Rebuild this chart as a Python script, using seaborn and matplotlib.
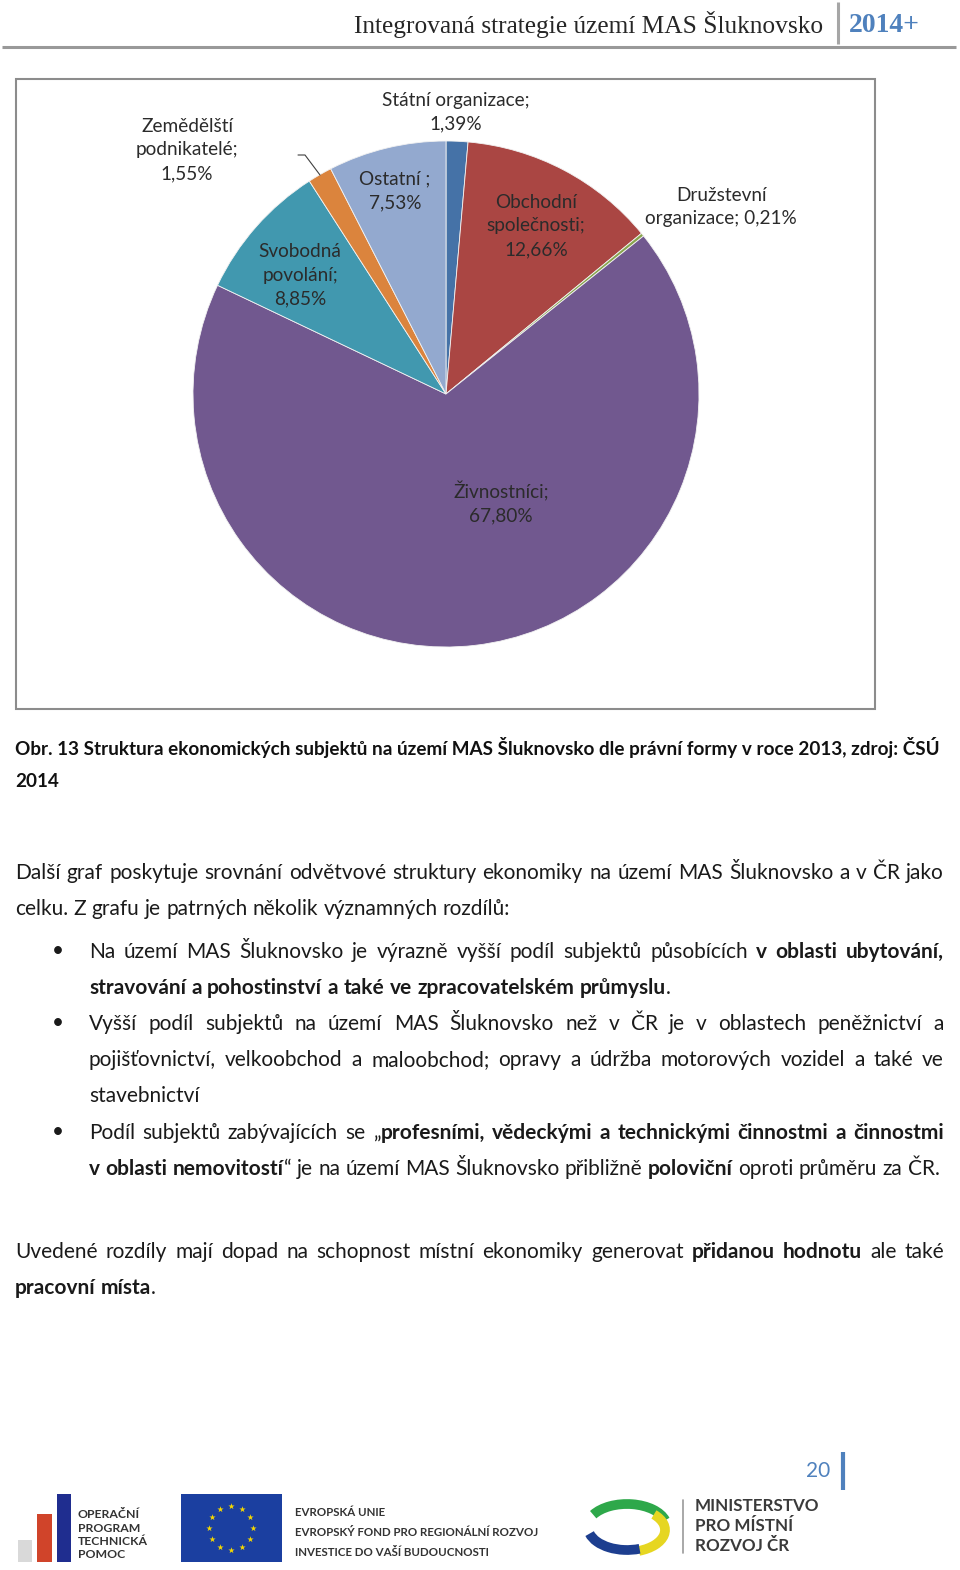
import numpy as np
import pandas as pd
import seaborn as sns
import matplotlib
matplotlib.use("Agg")
import matplotlib.pyplot as plt
from matplotlib.patches import Rectangle, Arc

# ---------------- data ----------------
categories = ["Státní organizace", "Obchodní společnosti", "Družstevní organizace",
              "Živnostníci", "Svobodná povolání", "Zemědělští podnikatelé", "Ostatní"]
shares = [1.39, 12.66, 0.21, 67.80, 8.85, 1.55, 7.53]
slice_colors = ["#4572A7", "#AA4643", "#89A54E", "#71588F", "#4198AF", "#DB843D", "#93A9CF"]
label_templates = ["Státní organizace;\n{p}", "Obchodní\nspolečnosti;\n{p}",
                   "Družstevní\norganizace; {p}", "Živnostníci;\n{p}",
                   "Svobodná\npovolání;\n{p}", "Zemědělští\npodnikatelé;\n{p}",
                   "Ostatní ;\n{p}"]

header_title = "Integrovaná strategie území MAS Šluknovsko"
header_year = "2014+"
caption_lines = ["Obr. 13 Struktura ekonomických subjektů na území MAS Šluknovsko dle právní formy v roce 2013, zdroj: ČSÚ",
                 "2014"]
body_lines = [  # (markup, indent, justify) ; "*" toggles bold
    ("Další graf poskytuje srovnání odvětvové struktury ekonomiky na území MAS Šluknovsko a v ČR jako", False, True),
    ("celku. Z grafu je patrných několik významných rozdílů:", False, False),
    ("Na území MAS Šluknovsko je výrazně vyšší podíl subjektů působících *v oblasti ubytování,*", True, True),
    ("*stravování a pohostinství a také ve zpracovatelském průmyslu*.", True, False),
    ("Vyšší podíl subjektů na území MAS Šluknovsko než v ČR je v oblastech peněžnictví a", True, True),
    ("pojišťovnictví, velkoobchod a maloobchod; opravy a údržba motorových vozidel a také ve", True, True),
    ("stavebnictví", True, False),
    ("Podíl subjektů zabývajících se „*profesními, vědeckými a technickými činnostmi a činnostmi*", True, True),
    ("*v oblasti nemovitostí*“ je na území MAS Šluknovsko přibližně *poloviční* oproti průměru za ČR.", True, False),
    ("Uvedené rozdíly mají dopad na schopnost místní ekonomiky generovat *přidanou hodnotu* ale také", False, True),
    ("*pracovní místa*.", False, False),
]
body_y = [872, 908, 951, 987, 1023, 1059, 1095, 1132, 1168, 1251, 1287]
bullet_rows = [2, 4, 7]
page_number = "20"

# ---------------- setup ----------------
sns.set_theme(style="white")
plt.rcParams["font.family"] = ["Lato", "DejaVu Sans"]
W, H = 960, 1570
fig = plt.figure(figsize=(W / 100, H / 100), dpi=100, facecolor="white")


def overlay():
    a = fig.add_axes([0, 0, 1, 1])
    a.set_xlim(0, W)
    a.set_ylim(H, 0)
    a.axis("off")
    a.patch.set_alpha(0)
    return a


bg = overlay()
renderer = fig.canvas.get_renderer()

SANS = ["Lato", "DejaVu Sans"]
SERIF = ["Liberation Serif", "DejaVu Serif"]


def text_width(s, size, weight="normal", family=SANS):
    t = bg.text(0, 0, s, fontsize=size, fontweight=weight, family=family)
    w = t.get_window_extent(renderer).width
    t.remove()
    return w


def fit_size(s, target, weight="normal", family=SANS):
    return 10 * target / text_width(s, 10, weight, family)


def draw_line(markup, x0, x1, y, size, justify, color="#1a1a1a"):
    bold = False
    parsed = []
    for w in markup.split(" "):
        pieces = []
        for i, p in enumerate(w.split("*")):
            if i > 0:
                bold = not bold
            if p:
                pieces.append((p, bold))
        parsed.append(pieces)
    widths = [[text_width(p, size, "bold" if b else "normal") for p, b in pcs] for pcs in parsed]
    totals = [sum(ws) for ws in widths]
    space = text_width("x x", size) - text_width("xx", size)
    n = len(parsed)
    natural = sum(totals) + space * (n - 1)
    if n > 1 and (justify or natural > x1 - x0):
        gap = (x1 - x0 - sum(totals)) / (n - 1)
    else:
        gap = space
    x = x0
    for pcs, ws in zip(parsed, widths):
        for (p, b), w in zip(pcs, ws):
            bg.text(x, y, p, fontsize=size, fontweight="bold" if b else "normal",
                    family=SANS, color=color, va="baseline", ha="left")
            x += w
        x += gap


# ---------------- header ----------------
hsize = fit_size(header_title, 471, family=SERIF)
bg.text(823, 24, header_title, fontsize=hsize, family=SERIF, color="#262626",
        ha="right", va="center")
ysize = fit_size(header_year, 71, weight="bold", family=SERIF)
bg.text(849, 25, header_year, fontsize=ysize, family=SERIF, fontweight="bold",
        color="#4F81BD", ha="left", va="center")
bg.plot([838, 838], [2, 44], color="#A6A6A6", lw=2.2, solid_capstyle="butt")
bg.plot([2, 956], [46.5, 46.5], color="#999999", lw=2.2, solid_capstyle="butt")

# ---------------- chart frame ----------------
bg.add_patch(Rectangle((16, 79), 859, 630, fill=False, edgecolor="#8C8C8C", lw=1.5))

# ---------------- pie ----------------
cx, cy, R = 446, 394, 253
ax = fig.add_axes([(cx - R) / W, 1 - (cy + R) / H, 2 * R / W, 2 * R / H])
palette = sns.color_palette(slice_colors)
df = pd.DataFrame({"category": categories, "share": shares})
ax.pie(df["share"], colors=palette, startangle=90, counterclock=False,
       wedgeprops=dict(edgecolor="#F2F2F2", linewidth=0.6))
ax.set_xlim(-1, 1)
ax.set_ylim(-1, 1)
ax.set_aspect("equal")
ax.axis("off")

top = overlay()
lsize = fit_size("organizace; 0,21%", 152)
# line step of matplotlib is linespacing * height("lp"); target step 25 px
_t = top.text(0, 0, "lp", fontsize=lsize)
lp_h = _t.get_window_extent(renderer).height
_t.remove()
label_pos = [(456, 112), (536, 226), (721, 207), (501, 503), (300, 275), (187, 150), (395, 191)]
for tpl, val, (lx, ly) in zip(label_templates, df["share"], label_pos):
    pct = f"{val:.2f}".replace(".", ",") + "%"
    top.text(lx, ly, tpl.format(p=pct), fontsize=lsize, color="#2B2B2B",
             ha="center", va="center", multialignment="center", linespacing=25 / lp_h)
# leader line for the small slice
top.plot([298, 305, 320], [155, 155, 175], color="#404040", lw=0.8)

# ---------------- caption ----------------
csize = fit_size(caption_lines[0], 925, weight="bold")
bg.text(15, 755, caption_lines[0], fontsize=csize, fontweight="bold", color="#111111",
        ha="left", va="baseline")
bg.text(15, 787, caption_lines[1], fontsize=csize, fontweight="bold", color="#111111",
        ha="left", va="baseline")

# ---------------- body ----------------
bsize = fit_size("celku. Z grafu je patrných několik významných rozdílů:", 494)
for (markup, indent, just), y in zip(body_lines, body_y):
    x0 = 89 if indent else 15
    draw_line(markup, x0, 944, y + 7, bsize, just)
for r in bullet_rows:
    bg.text(58, body_y[r], "•", fontsize=bsize, color="#1a1a1a", ha="center", va="center")

# ---------------- page number ----------------
bg.text(830, 1471, page_number, fontsize=15, color="#4F81BD", ha="right", va="center")
bg.plot([843, 843], [1452, 1490], color="#4F81BD", lw=3, solid_capstyle="butt")

# ---------------- footer logos ----------------
# OP Technická pomoc
bg.add_patch(Rectangle((18, 1540), 14, 22, color="#D9D9D9", lw=0))
bg.add_patch(Rectangle((37, 1514), 15, 48, color="#D0442A", lw=0))
bg.add_patch(Rectangle((57, 1494), 14, 68, color="#1F2D8F", lw=0))
opsize = fit_size("TECHNICKÁ", 70, weight="bold")
for i, t in enumerate(["OPERAČNÍ", "PROGRAM", "TECHNICKÁ", "POMOC"]):
    bg.text(78, 1515 + i * 13.3, t, fontsize=opsize, fontweight="bold", color="#333333",
            ha="left", va="center")
# EU flag
bg.add_patch(Rectangle((181, 1494), 101, 68, color="#1B3FA0", lw=0))
ang = np.linspace(0, 2 * np.pi, 13)[:-1]
bg.scatter(231 + 22 * np.cos(ang), 1528 + 22 * np.sin(ang), marker="*", s=22,
           color="#F5D800", linewidths=0, zorder=3)
eusize = fit_size("EVROPSKÝ FOND PRO REGIONÁLNÍ ROZVOJ", 245, weight="bold")
for t, y in zip(["EVROPSKÁ UNIE", "EVROPSKÝ FOND PRO REGIONÁLNÍ ROZVOJ",
                 "INVESTICE DO VAŠÍ BUDOUCNOSTI"], [1512, 1532, 1553]):
    bg.text(295, y, t, fontsize=eusize, fontweight="bold", color="#333333", ha="left", va="center")
# MMR
bg.add_patch(Arc((627, 1527), 80, 46, theta1=200, theta2=350, color="#2EA84A", lw=7))
bg.add_patch(Arc((627, 1530), 76, 44, theta1=-30, theta2=60, color="#E6D621", lw=7))
bg.add_patch(Arc((627, 1527), 78, 46, theta1=60, theta2=170, color="#1D3E8F", lw=7))
bg.plot([683, 683], [1500, 1553], color="#999999", lw=1.2)
msize = fit_size("MINISTERSTVO", 125, weight="bold")
for i, t in enumerate(["MINISTERSTVO", "PRO MÍSTNÍ", "ROZVOJ ČR"]):
    bg.text(695, 1506 + i * 20, t, fontsize=msize, fontweight="bold", color="#3A3A3A",
            ha="left", va="center")

fig.savefig("out.png", dpi=100, facecolor="white")
